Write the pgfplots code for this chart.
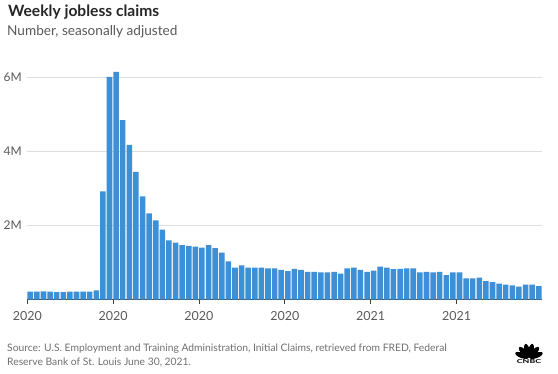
\documentclass[border=0pt]{standalone}
\usepackage{fontspec}
\setmainfont{Lato}
\usepackage{pgfplots}
\pgfplotsset{compat=1.18}
\definecolor{barblue}{HTML}{3D8FD6}
\definecolor{gridgray}{HTML}{DEDEDE}
\definecolor{labgray}{HTML}{5A5A5A}
\definecolor{srcgray}{HTML}{707070}
\begin{document}
\begin{tikzpicture}[x=1pt,y=1pt]
\path[fill=white] (0,0) rectangle (558,373);
\node[anchor=base west, inner sep=0, text=black!85] at (8,356) {\fontsize{15.6}{18}\selectfont\bfseries Weekly jobless claims};
\node[anchor=base west, inner sep=0, text=labgray] at (7,337) {\fontsize{13.6}{16}\selectfont Number, seasonally adjusted};
\begin{axis}[
  at={(27.3pt,73.5pt)}, anchor=south west, scale only axis,
  width=514.4pt, height=229.4pt,
  xmin=-0.45, xmax=77.45, ymin=0, ymax=6.2,
  ybar, bar width=0.84,
  axis lines*=left,
  x axis line style={-, draw=black!75, line width=0.9pt},
  y axis line style={draw=none},
  xtick={-0.45,12.55,25.55,38.55,51.55,64.55},
  xticklabels={2020,2020,2020,2020,2021,2021},
  xtick style={draw=black!75, line width=0.8pt},
  major tick length=4pt, tick align=outside,
  ytick={2,4,6}, yticklabels={2M,4M,6M},
  ytick style={draw=none},
  ymajorgrids, grid style={gridgray, line width=0.9pt},
  ticklabel style={font=\fontsize{12}{14}\selectfont, text=labgray},
  xticklabel style={yshift=-4pt, font=\fontsize{12.5}{14}\selectfont},
  yticklabel style={xshift=2pt},
]
\addplot[fill=barblue, draw=none] coordinates {
(0,0.21) (1,0.21) (2,0.22) (3,0.21) (4,0.20) (5,0.20) (6,0.21) (7,0.21) (8,0.21) (9,0.21)
(10,0.25) (11,2.92) (12,6.02) (13,6.15) (14,4.85) (15,4.18) (16,3.45) (17,2.79) (18,2.33) (19,2.14)
(20,1.89) (21,1.60) (22,1.54) (23,1.47) (24,1.45) (25,1.43) (26,1.40) (27,1.47) (28,1.39) (29,1.27)
(30,1.03) (31,0.86) (32,0.92) (33,0.86) (34,0.86) (35,0.86) (36,0.84) (37,0.84) (38,0.80) (39,0.77)
(40,0.83) (41,0.80) (42,0.75) (43,0.75) (44,0.73) (45,0.73) (46,0.75) (47,0.70) (48,0.84) (49,0.86)
(50,0.80) (51,0.75) (52,0.78) (53,0.89) (54,0.86) (55,0.82) (56,0.83) (57,0.84) (58,0.84) (59,0.73)
(60,0.75) (61,0.73) (62,0.75) (63,0.66) (64,0.73) (65,0.73) (66,0.57) (67,0.57) (68,0.59) (69,0.50)
(70,0.47) (71,0.43) (72,0.40) (73,0.38) (74,0.35) (75,0.40) (76,0.40) (77,0.36)
};
\end{axis}
\node[anchor=base west, inner sep=0, text=srcgray] at (7,22) {\fontsize{10.3}{13}\selectfont Source: U.S. Employment and Training Administration, Initial Claims, retrieved from FRED, Federal};
\node[anchor=base west, inner sep=0, text=srcgray] at (7,8) {\fontsize{10.3}{13}\selectfont Reserve Bank of St. Louis June 30, 2021.};
% CNBC logo (simplified)
\foreach \a in {20,48,76,104,132,160} {
  \fill[black] (529,15) ++(\a:7.5) ellipse [x radius=7, y radius=2.7, rotate=\a];
}
\node[inner sep=0, xscale=1.6, text=black] at (529,11) {\fontsize{5.5}{6}\selectfont\bfseries CNBC};
\end{tikzpicture}
\end{document}
